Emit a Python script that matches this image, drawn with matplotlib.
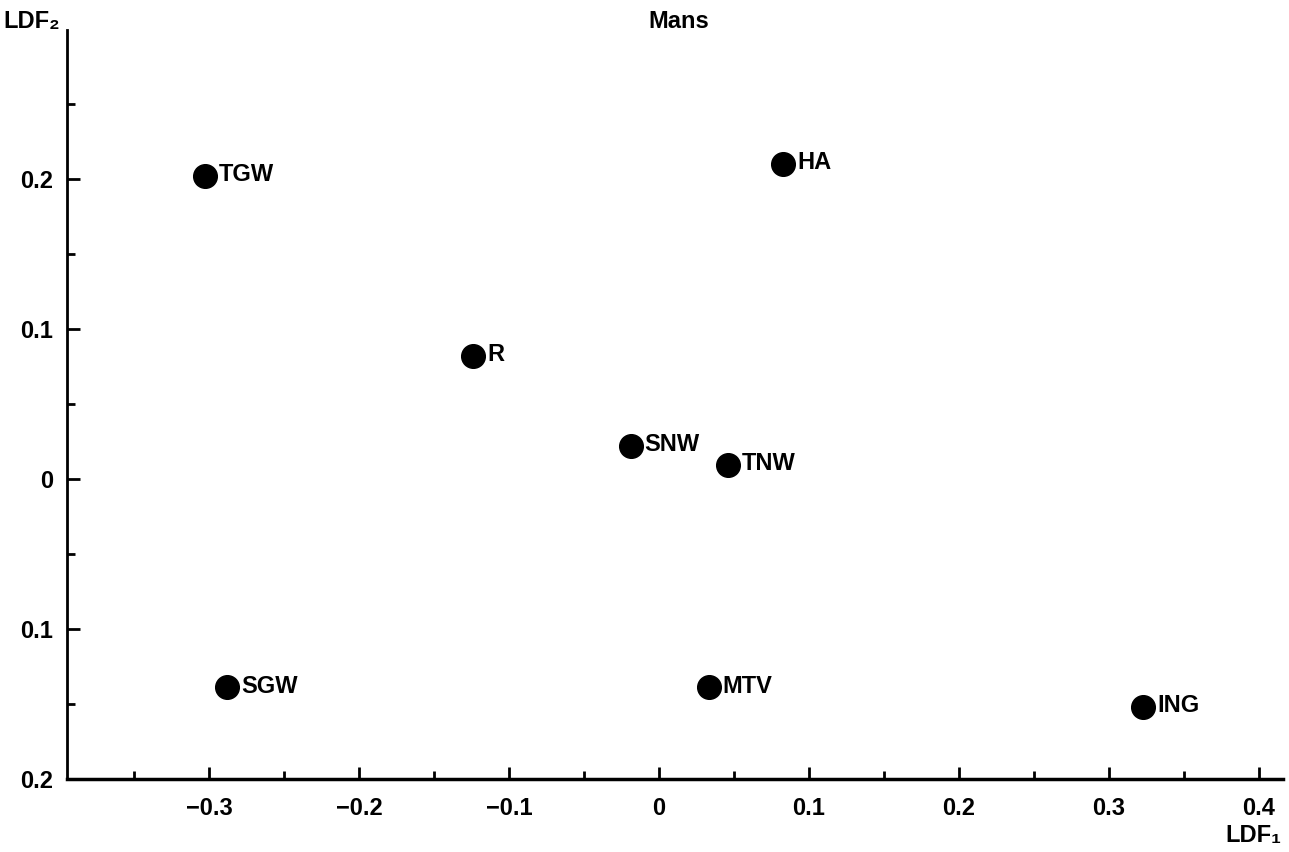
# -*- coding: utf-8 -*-
import numpy as np
import matplotlib.pyplot as plt

# data
groups = ['TGW', 'SGW', 'R', 'SNW', 'TNW', 'HA', 'MTV', 'ING']
ldf1 = [-0.303, -0.288, -0.124, -0.019, 0.046, 0.083, 0.033, 0.323]
ldf2 = [0.202, -0.139, 0.082, 0.022, 0.009, 0.210, -0.139, -0.152]

x_ticks = [-0.3, -0.2, -0.1, 0, 0.1, 0.2, 0.3, 0.4]
x_labels = ['\u22120.3', '\u22120.2', '\u22120.1', '0', '0.1', '0.2', '0.3', '0.4']
y_ticks = [0.2, 0.1, 0, -0.1, -0.2]
y_labels = ['0.2', '0.1', '0', '0.1', '0.2']

plt.rcParams['font.family'] = ['Liberation Sans', 'DejaVu Sans']
plt.rcParams['font.weight'] = 'bold'

fig = plt.figure(figsize=(12.89, 8.52), dpi=100)
ax = fig.add_axes([0.052, 0.0857, 0.943, 0.879])

ax.scatter(ldf1, ldf2, s=290, color='black', zorder=3)
for name, x, y in zip(groups, ldf1, ldf2):
	ax.annotate(name, (x, y), xytext=(10, 1), textcoords='offset points',
				va='center', ha='left', fontsize=17, fontweight='bold')

ax.set_xlim(-0.395, 0.416)
ax.set_ylim(-0.2, 0.299)

ax.spines['top'].set_visible(False)
ax.spines['right'].set_visible(False)
ax.spines['left'].set_linewidth(2)
ax.spines['bottom'].set_linewidth(2.5)

ax.set_xticks(x_ticks)
ax.set_xticklabels(x_labels)
ax.set_xticks(np.arange(-0.35, 0.41, 0.05), minor=True)
ax.set_yticks(y_ticks)
ax.set_yticklabels(y_labels)
ax.set_yticks([-0.15, -0.05, 0.05, 0.15, 0.25], minor=True)

ax.tick_params(axis='both', which='both', direction='in', width=2, labelsize=17)
ax.tick_params(axis='both', which='major', length=9)
ax.tick_params(axis='both', which='minor', length=6)
ax.tick_params(axis='x', which='major', pad=13)
ax.tick_params(axis='y', which='major', pad=10)

# labels
ax.text(0.503, 1.011, 'Mans', transform=ax.transAxes, ha='center', va='center',
		fontsize=17, fontweight='bold')
ax.text(-0.006, 1.011, 'LDF\u2082', transform=ax.transAxes, ha='right', va='center',
		fontsize=17, fontweight='bold')
ax.text(0.999, -0.076, 'LDF\u2081', transform=ax.transAxes, ha='right', va='center',
		fontsize=17, fontweight='bold')

fig.savefig('out.png', dpi=100)
